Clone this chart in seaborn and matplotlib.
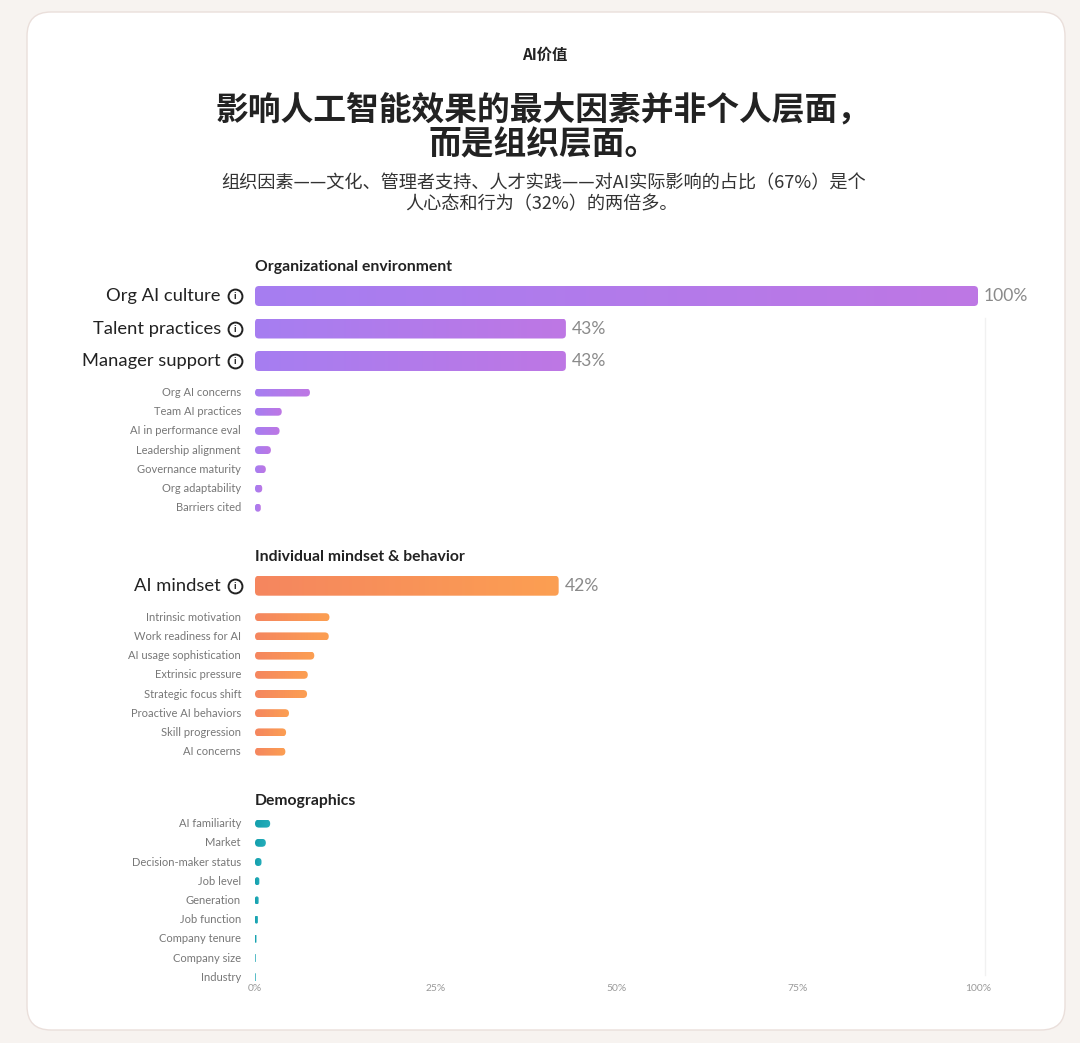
import matplotlib
matplotlib.use("Agg")
import matplotlib.pyplot as plt
import matplotlib.transforms as mtransforms
from matplotlib.patches import FancyBboxPatch
from matplotlib.colors import LinearSegmentedColormap
import seaborn as sns
import pandas as pd
import numpy as np

# Data (share of AI impact, %)
section_titles = ["Organizational environment", "Individual mindset & behavior", "Demographics"]

org_main = ["Org AI culture", "Talent practices", "Manager support"]
org_main_vals = [100, 43, 43]
org_sub = ["Org AI concerns", "Team AI practices", "AI in performance eval",
           "Leadership alignment", "Governance maturity", "Org adaptability", "Barriers cited"]
org_sub_vals = [7.6, 3.7, 3.4, 2.2, 1.5, 1.0, 0.8]

ind_main = ["AI mindset"]
ind_main_vals = [42]
ind_sub = ["Intrinsic motivation", "Work readiness for AI", "AI usage sophistication",
           "Extrinsic pressure", "Strategic focus shift", "Proactive AI behaviors",
           "Skill progression", "AI concerns"]
ind_sub_vals = [10.3, 10.2, 8.2, 7.3, 7.2, 4.7, 4.3, 4.2]

demo_sub = ["AI familiarity", "Market", "Decision-maker status", "Job level", "Generation",
            "Job function", "Company tenure", "Company size", "Industry"]
demo_sub_vals = [2.1, 1.5, 0.9, 0.6, 0.5, 0.4, 0.2, 0.1, 0.1]

x_ticks = [0, 25, 50, 75, 100]

kicker = "AI价值"
title_lines = ["影响人工智能效果的最大因素并非个人层面，", "而是组织层面。"]
subtitle_lines = ["组织因素——文化、管理者支持、人才实践——对AI实际影响的占比（67%）是个",
                  "人心态和行为（32%）的两倍多。"]

# colours
gradients = {
    "org": ("#a67ef1", "#be77e4"),
    "ind": ("#f5865f", "#fc9f52"),
    "demo": ("#139fac", "#25adbb"),
}

W, H = 1080, 1043
sns.set_theme(style="white")
plt.rcParams["font.family"] = ["Lato", "Noto Sans CJK SC", "DejaVu Sans"]
cjk = ["Noto Sans CJK SC", "DejaVu Sans"]

fig = plt.figure(figsize=(W / 100, H / 100), dpi=100, facecolor="#f7f3f0")

# white card (behind the axes)
card = FancyBboxPatch((27, 13), 1038, 1018, boxstyle="round,pad=0,rounding_size=24",
                      transform=mtransforms.IdentityTransform(), fc="white", ec="#eadfdb",
                      lw=1, zorder=-5)
fig.patches.append(card)

# header texts
fig.text(0.504, 1 - 55 / H, kicker, ha="center", va="center", fontsize=11,
         fontweight="bold", color="#222222", family=cjk)
for i, line in enumerate(title_lines):
    fig.text(0.503, 1 - (110 + 35 * i) / H, line, ha="center", va="center", fontsize=23.6,
             fontweight="bold", color="#222222", family=cjk)
for i, line in enumerate(subtitle_lines):
    fig.text(0.503 - 0.002 * i, 1 - (183 + 21 * i) / H, line, ha="center", va="center",
             fontsize=13.1, color="#333333", family=cjk)

# build rows with layout positions (pixel rows from the top)
sections = [
    (section_titles[0], org_main, org_main_vals, org_sub, org_sub_vals, "org"),
    (section_titles[1], ind_main, ind_main_vals, ind_sub, ind_sub_vals, "ind"),
    (section_titles[2], [], [], demo_sub, demo_sub_vals, "demo"),
]
rows, headers = [], []
y = 267
for title, mn, mv, sn, sv, key in sections:
    headers.append((title, y))
    if mn:
        y += 29
        for n, v in zip(mn, mv):
            rows.append(dict(factor=n, value=v, ypos=y, tier="main", group=key))
            y += 32.5
        y += 31.5 - 32.5
    else:
        y += 23
    for n, v in zip(sn, sv):
        rows.append(dict(factor=n, value=v, ypos=y, tier="sub", group=key))
        y += 19.2
    y += 49 - 19.2
df = pd.DataFrame(rows)

ax_left, ax_right, ax_top, ax_bottom = 255, 985, 250, 983
ax = fig.add_axes([ax_left / W, 1 - ax_bottom / H, (ax_right - ax_left) / W, (ax_bottom - ax_top) / H])
ax.set_facecolor("none")
xmax = 100 * (ax_right - ax_left) / 723
px_per_x = (ax_right - ax_left) / xmax

for tier in ["main", "sub"]:
    part = df[df["tier"] == tier]
    sns.barplot(data=part, x="value", y="ypos", orient="y", native_scale=True,
                errorbar=None, color="#cccccc", ax=ax)

bar_h = {"main": 20, "sub": 8}
radius_px = 4
for patch in list(ax.patches):
    x0, w = patch.get_x(), patch.get_width()
    yc = patch.get_y() + patch.get_height() / 2
    row = df.iloc[(df["ypos"] - yc).abs().argmin()]
    patch.remove()
    h = bar_h[row["tier"]]
    r = min(radius_px / px_per_x, w / 2)
    rb = FancyBboxPatch((x0, row["ypos"] - h / 2), w, h,
                        boxstyle=f"round,pad=0,rounding_size={r}",
                        mutation_aspect=px_per_x, fc="none", ec="none")
    ax.add_patch(rb)
    cmap = LinearSegmentedColormap.from_list("g", gradients[row["group"]])
    im = ax.imshow(np.linspace(0, 1, 256).reshape(1, -1), cmap=cmap, aspect="auto",
                   extent=(x0, x0 + w, row["ypos"] + h / 2, row["ypos"] - h / 2),
                   interpolation="bicubic", zorder=2)
    im.set_clip_path(rb)

# labels
for _, row in df.iterrows():
    if row["tier"] == "main":
        ax.annotate(row["factor"], xy=(0, row["ypos"]), xytext=(-34, 0),
                    textcoords="offset pixels", ha="right", va="center",
                    fontsize=13.2, color="#222222", annotation_clip=False)
        ix = -20 / px_per_x
        ax.plot([ix], [row["ypos"]], marker="o", markersize=10, mfc="white",
                mec="#222222", mew=1.4, clip_on=False, zorder=5)
        ax.text(ix, row["ypos"] + 0.5, "i", ha="center", va="center", fontsize=7.5,
                fontweight="bold", color="#222222", zorder=6, clip_on=False)
        ax.annotate(f"{row['value']:.0f}%", xy=(row["value"], row["ypos"]), xytext=(6, 0),
                    textcoords="offset pixels", ha="left", va="center",
                    fontsize=12.6, color="#8a8a8a", annotation_clip=False)
    else:
        ax.annotate(row["factor"], xy=(0, row["ypos"]), xytext=(-14, 0),
                    textcoords="offset pixels", ha="right", va="center",
                    fontsize=8.0, color="#777777", annotation_clip=False)

for title, yh in headers:
    ax.text(0, yh, title, ha="left", va="center", fontsize=11.3, fontweight="bold",
            color="#222222", clip_on=False)

ax.set_xlim(0, xmax)
ax.set_ylim(ax_bottom, ax_top)
ax.set_aspect("auto")
ax.set_xticks(x_ticks)
ax.set_xticklabels([f"{t}%" for t in x_ticks], fontsize=7.4, color="#9a9a9a")
ax.set_yticks([])
ax.set_xlabel("")
ax.set_ylabel("")
ax.tick_params(axis="x", length=0, pad=1)
for side in ["top", "left", "bottom"]:
    ax.spines[side].set_visible(False)
ax.spines["right"].set_color("#f1f1f1")
ax.spines["right"].set_linewidth(1)
ax.spines["right"].set_bounds(ax_bottom - 8, 318)

fig.savefig("out.png", dpi=100, facecolor=fig.get_facecolor())
